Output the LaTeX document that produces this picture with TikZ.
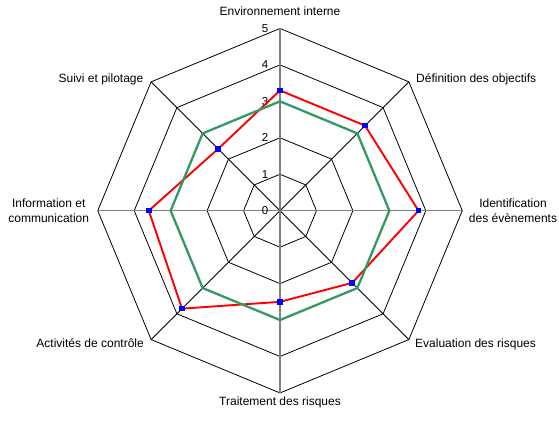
\documentclass[tikz,border=0pt]{standalone}
\usepackage{fontspec}
\setmainfont{Liberation Sans}
\definecolor{seagreen}{RGB}{51,153,102}
\definecolor{axisgray}{RGB}{128,128,128}
\begin{document}
\begin{tikzpicture}[x=1pt,y=1pt,
  ring/.style={black, line width=0.8pt, line join=miter},
  axisline/.style={axisgray, line width=1.4pt},
  diagline/.style={black, line width=0.8pt},
  redser/.style={red, line width=1.9pt, line join=miter},
  greenser/.style={seagreen, line width=2.3pt, line join=miter},
  marker/.style={fill=blue, draw=none, minimum size=5.5pt, inner sep=0pt, rectangle},
  lab/.style={font=\fontsize{12}{15}\selectfont, inner sep=0pt, align=center},
  tick/.style={font=\fontsize{11.5}{12}\selectfont, inner sep=0pt, anchor=east}]
\useasboundingbox (0,0) rectangle (559,420);
\coordinate (C) at (280,209.3);
\foreach \k in {0,...,7}{
  \foreach \r in {1,...,5}{
    \coordinate (v\r-\k) at ([shift={(280,209.3)}]{90-45*\k}:{\r*36.45});
  }
}
% rings
\foreach \r in {1,...,5}{
  \draw[ring] (v\r-0) -- (v\r-1) -- (v\r-2) -- (v\r-3) -- (v\r-4) -- (v\r-5) -- (v\r-6) -- (v\r-7) -- cycle;
}
% axes
\foreach \k in {1,3,5,7}{ \draw[diagline] (C) -- (v5-\k); }
\foreach \k in {0,2,4,6}{ \draw[axisline] (C) -- (v5-\k); }
% tick labels
\node[tick] (t0) at (268.5,209.3) {0};
\foreach \r in {1,...,5}{
  \node[tick] (t\r) at ([xshift=-11.5]v\r-0) {\r};
}
% series values
\foreach \k/\val in {0/3.3,1/3.3,2/3.8,3/2.8,4/2.5,5/3.8,6/3.6,7/2.4}{
  \coordinate (r\k) at ([shift={(280,209.3)}]{90-45*\k}:{\val*36.45});
  \coordinate (g\k) at ([shift={(280,209.3)}]{90-45*\k}:{3*36.45});
}
\draw[redser] (r0) -- (r1) -- (r2) -- (r3) -- (r4) -- (r5) -- (r6) -- (r7) -- cycle;
\draw[greenser] (g0) -- (g1) -- (g2) -- (g3) -- (g4) -- (g5) -- (g6) -- (g7) -- cycle;
\foreach \k in {0,...,7}{ \node[marker] (m\k) at (r\k) {}; }
% category labels
\node[lab, anchor=base] (l0) at (280,404) {Environnement interne};
\node[lab, anchor=base west] (l1) at (416,337.5) {Définition des objectifs};
\node[lab, anchor=center] (l2) at (513,209.3) {Identification\\des évènements};
\node[lab, anchor=base west] (l3) at (415,72.5) {Evaluation des risques};
\node[lab, anchor=base] (l4) at (280,14) {Traitement des risques};
\node[lab, anchor=base east] (l5) at (144,72.5) {Activités de contrôle};
\node[lab, anchor=center] (l6) at (48.7,209.5) {Information et\\communication};
\node[lab, anchor=base east] (l7) at (143.5,337.5) {Suivi et pilotage};
\end{tikzpicture}
\end{document}
